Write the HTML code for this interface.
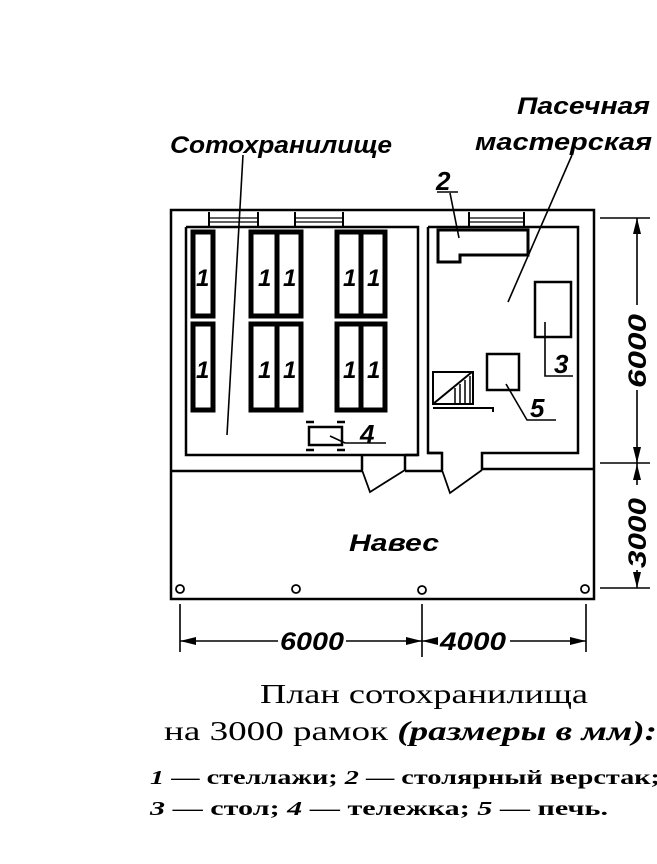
<!DOCTYPE html>
<html><head><meta charset="utf-8"><style>
html,body{margin:0;padding:0;background:#fff;width:657px;height:864px;overflow:hidden}
svg{display:block}
.it{font-family:"Liberation Sans","DejaVu Sans",sans-serif;font-style:italic;font-weight:bold}
.sr{font-family:"Liberation Serif",serif}
</style></head><body>
<svg width="657" height="864" viewBox="0 0 657 864" xmlns="http://www.w3.org/2000/svg">
<g fill="none" stroke="#000" stroke-width="2.5">
<rect x="171" y="210" width="423" height="389"/>
<path d="M186 227 H418 V455 H362 V470 M186 227 V455 H362"/>
<path d="M428 227 H578 V453 H482 V470 M428 227 V453 H442 V470"/>
<path d="M405 470 V455 M418 455 H405 M428 453 H442"/>
<path d="M171 471 H362 M405 471 H442 M482 469 H594"/>
<path d="M362 470 L370 492 L405 470" stroke-width="1.8"/>
<path d="M442 470 L450 493 L482 470" stroke-width="1.8"/>
<path d="M209 212 V226 M258 212 V226 M295 212 V226 M343 212 V226 M469 212 V226 M524 212 V226" stroke-width="2"/>
<path d="M209 218 H258 M295 218 H343 M469 218 H524 M209 222 H258 M295 222 H343 M469 222 H524" stroke-width="1.2"/>
</g>
<g fill="#fff" stroke="#000" stroke-width="5">
<rect x="193" y="232" width="20" height="84"/>
<rect x="193" y="324" width="20" height="86"/>
<rect x="251" y="232" width="26" height="84"/><rect x="277" y="232" width="24" height="84"/>
<rect x="251" y="324" width="26" height="86"/><rect x="277" y="324" width="24" height="86"/>
<rect x="337" y="232" width="24" height="84"/><rect x="361" y="232" width="24" height="84"/>
<rect x="337" y="324" width="24" height="86"/><rect x="361" y="324" width="24" height="86"/>
</g>
<g class="it" font-size="24" fill="#000">
<text x="196" y="286">1</text><text x="196" y="378">1</text>
<text x="258" y="286">1</text><text x="283" y="286">1</text>
<text x="343" y="286">1</text><text x="367" y="286">1</text>
<text x="258" y="378">1</text><text x="283" y="378">1</text>
<text x="343" y="378">1</text><text x="367" y="378">1</text>
</g>
<g fill="none" stroke="#000" stroke-width="2.5">
<rect x="309" y="427" width="33" height="18"/>
<path d="M306 422 H314 M337 422 H345 M306 450 H314 M337 450 H345" />
<path d="M330 436 L345 443 H386" stroke-width="1.6"/>
<path d="M438 230 H528 V255 H460 V262 H438 Z" stroke-width="3"/>
<path d="M437 192 H458 M459 238 L450 193" stroke-width="1.6"/>
<rect x="535" y="282" width="36" height="55"/>
<path d="M545 322 V376 H573" stroke-width="1.6"/>
<rect x="487" y="354" width="32" height="36"/>
<path d="M506 384 L527 420 H556" stroke-width="1.6"/>
<path d="M433 372 H473 V404 H433 Z M433 404 L472 372 M433 408 H493 V412" stroke-width="2"/>
<path d="M455 388 V404 M460 384 V404 M465 380 V404 M470 376 V404" stroke-width="1.5"/>
<path d="M243 155 L227 435" stroke-width="1.6"/>
<path d="M572 155 L508 302" stroke-width="1.6"/>
<g stroke-width="1.8"><circle cx="180" cy="589" r="4"/><circle cx="296" cy="589" r="4"/><circle cx="422" cy="590" r="4"/><circle cx="585" cy="589" r="4"/></g>
<g stroke-width="1.6">
<path d="M180 604 V652 M422 604 V657 M586 604 V652"/>
<path d="M180 641 H278 M346 641 H422 M422 641 H436 M510 641 H586"/>
<path d="M600 218 H650 M600 463 H650 M600 588 H650"/>
<path d="M637 218 V305 M637 390 V463 M637 463 V485 M637 570 V588"/>
</g>
</g>
<g fill="#000">
<path d="M180 641 L196 637 V645Z M422 641 L406 637 V645Z M422 641 L438 637 V645Z M586 641 L570 637 V645Z"/>
<path d="M637 218 L633 234 H641Z M637 463 L633 447 H641Z M637 464 L633 480 H641Z M637 588 L633 572 H641Z"/>
</g>
<g class="it" fill="#000">
<text x="170" y="153" font-size="24" textLength="222" lengthAdjust="spacingAndGlyphs">Сотохранилище</text>
<text x="517" y="114" font-size="24" textLength="133" lengthAdjust="spacingAndGlyphs">Пасечная</text>
<text x="475" y="150" font-size="24" textLength="177" lengthAdjust="spacingAndGlyphs">мастерская</text>
<text x="436" y="190" font-size="26">2</text>
<text x="360" y="443" font-size="26">4</text>
<text x="554" y="373" font-size="26">3</text>
<text x="530" y="417" font-size="26">5</text>
<text x="349" y="551" font-size="24" textLength="90" lengthAdjust="spacingAndGlyphs">Навес</text>
<text x="280" y="650" font-size="25" textLength="64" lengthAdjust="spacingAndGlyphs">6000</text>
<text x="440" y="650" font-size="25" textLength="66" lengthAdjust="spacingAndGlyphs">4000</text>
<text transform="translate(646,388) rotate(-90)" font-size="25" textLength="74" lengthAdjust="spacingAndGlyphs">6000</text>
<text transform="translate(646,568) rotate(-90)" font-size="25" textLength="70" lengthAdjust="spacingAndGlyphs">3000</text>
</g>
<g class="sr" fill="#000">
<text x="260" y="703" font-size="27" textLength="328" lengthAdjust="spacingAndGlyphs">План сотохранилища</text>
<text x="164" y="740" font-size="27" textLength="493" lengthAdjust="spacingAndGlyphs">на 3000 рамок <tspan font-style="italic" font-weight="bold">(размеры в мм):</tspan></text>
<text x="150" y="784" font-size="20" font-weight="bold" textLength="510" lengthAdjust="spacingAndGlyphs"><tspan font-style="italic">1</tspan> — стеллажи; <tspan font-style="italic">2</tspan> — столярный верстак;</text>
<text x="150" y="815" font-size="20" font-weight="bold" textLength="458" lengthAdjust="spacingAndGlyphs"><tspan font-style="italic">3</tspan> — стол; <tspan font-style="italic">4</tspan> — тележка; <tspan font-style="italic">5</tspan> — печь.</text>
</g>
</svg>
</body></html>
